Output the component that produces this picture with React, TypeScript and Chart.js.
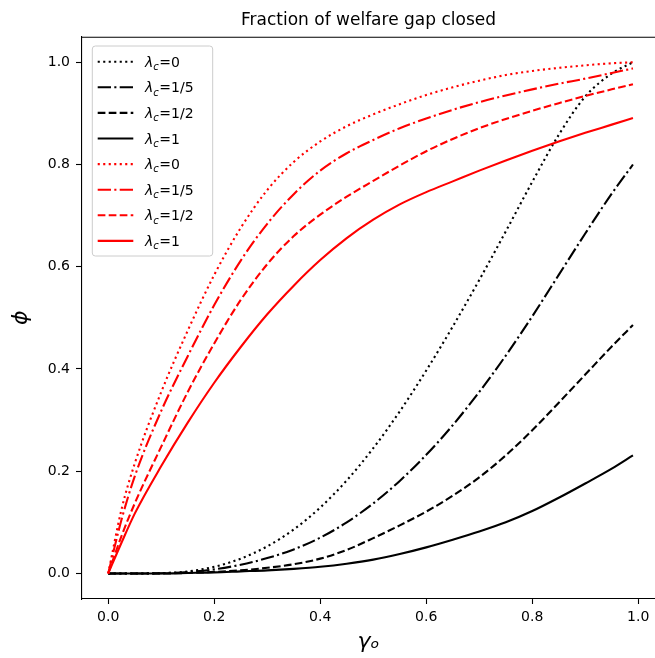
import React, { useEffect, useRef } from "react";
import { Chart, registerables } from "chart.js";

Chart.register(...registerables);

// ---- data ----
const gammaO = [0, 0.025, 0.05, 0.1, 0.15, 0.2, 0.25, 0.3, 0.35, 0.4, 0.45, 0.5, 0.55, 0.6, 0.65, 0.7, 0.75, 0.8, 0.85, 0.9, 0.95, 0.99];

const blackLam0 = [0, 0, 0, 0.0005, 0.004, 0.013, 0.029, 0.053, 0.086, 0.129, 0.182, 0.245, 0.317, 0.397, 0.483, 0.574, 0.669, 0.766, 0.858, 0.933, 0.978, 1.0];
const blackLam15 = [0, 0, 0, 0.0005, 0.003, 0.008, 0.017, 0.03, 0.047, 0.07, 0.1, 0.137, 0.181, 0.232, 0.29, 0.355, 0.426, 0.503, 0.584, 0.665, 0.743, 0.8];
const blackLam12 = [0, 0, 0, 0, 0.001, 0.003, 0.006, 0.011, 0.018, 0.029, 0.046, 0.069, 0.094, 0.121, 0.152, 0.188, 0.231, 0.28, 0.334, 0.389, 0.444, 0.486];
const blackLam1 = [0, 0, 0, 0, 0.001, 0.002, 0.004, 0.006, 0.009, 0.013, 0.019, 0.027, 0.038, 0.051, 0.066, 0.082, 0.1, 0.122, 0.148, 0.176, 0.205, 0.231];

const redLam0 = [0, 0.125, 0.215, 0.355, 0.475, 0.584, 0.676, 0.75, 0.805, 0.845, 0.875, 0.898, 0.918, 0.936, 0.951, 0.964, 0.975, 0.983, 0.989, 0.994, 0.998, 1.0];
const redLam15 = [0, 0.105, 0.19, 0.318, 0.425, 0.525, 0.612, 0.684, 0.742, 0.788, 0.822, 0.848, 0.871, 0.89, 0.907, 0.922, 0.935, 0.947, 0.958, 0.968, 0.979, 0.988];
const redLam12 = [0, 0.073, 0.137, 0.248, 0.355, 0.45, 0.535, 0.605, 0.66, 0.702, 0.737, 0.768, 0.798, 0.826, 0.85, 0.871, 0.889, 0.905, 0.92, 0.934, 0.947, 0.957];
const redLam1 = [0, 0.06, 0.117, 0.21, 0.295, 0.373, 0.443, 0.507, 0.563, 0.613, 0.656, 0.692, 0.722, 0.746, 0.767, 0.788, 0.808, 0.827, 0.845, 0.862, 0.878, 0.891];

const lambdaValues = ["0", "1/5", "1/2", "1"];
const xTicks = [0, 0.2, 0.4, 0.6, 0.8, 1.0];
const yTicks = [0, 0.2, 0.4, 0.6, 0.8, 1.0];
const titleText = "Fraction of welfare gap closed";
const xTitle = "γₒ";
const yTitle = "ϕ";

// ---- styles ----
const LW = 2.1;
const DOTTED = [2.1, 3.4];
const DASHDOT = [13.3, 3.3, 2.1, 3.3];
const DASHED = [7.7, 3.3];
const SOLID: number[] = [];
const FONT = '"DejaVu Sans", "Liberation Sans", sans-serif';

const seriesList = [
  { values: blackLam0, color: "#000000", dash: DOTTED, lam: lambdaValues[0] },
  { values: blackLam15, color: "#000000", dash: DASHDOT, lam: lambdaValues[1] },
  { values: blackLam12, color: "#000000", dash: DASHED, lam: lambdaValues[2] },
  { values: blackLam1, color: "#000000", dash: SOLID, lam: lambdaValues[3] },
  { values: redLam0, color: "#ff0000", dash: DOTTED, lam: lambdaValues[0] },
  { values: redLam15, color: "#ff0000", dash: DASHDOT, lam: lambdaValues[1] },
  { values: redLam12, color: "#ff0000", dash: DASHED, lam: lambdaValues[2] },
  { values: redLam1, color: "#ff0000", dash: SOLID, lam: lambdaValues[3] },
];

const framePlugin = {
  id: "mplFrame",
  afterDraw(chart: any) {
    const { ctx, chartArea } = chart;
    ctx.save();
    ctx.strokeStyle = "#000";
    ctx.lineWidth = 1.1;
    ctx.setLineDash([]);
    ctx.beginPath();
    ctx.moveTo(chartArea.left, chartArea.top + 0.5);
    ctx.lineTo(chartArea.right, chartArea.top + 0.5);
    ctx.stroke();
    ctx.restore();
  },
};

const legendPlugin = {
  id: "mplLegend",
  afterDatasetsDraw(chart: any) {
    const { ctx, chartArea } = chart;
    const x0 = chartArea.left + 10.3;
    const y0 = chartArea.top + 9.3;
    const w = 120.4;
    const h = 210;
    ctx.save();
    ctx.beginPath();
    if ((ctx as any).roundRect) (ctx as any).roundRect(x0, y0, w, h, 3);
    else ctx.rect(x0, y0, w, h);
    ctx.fillStyle = "rgba(255,255,255,0.8)";
    ctx.fill();
    ctx.strokeStyle = "#cccccc";
    ctx.lineWidth = 1;
    ctx.stroke();
    chart.data.datasets.forEach((ds: any, i: number) => {
      const cy = y0 + 15.7 + i * 25.6;
      ctx.setLineDash(ds.borderDash || []);
      ctx.strokeStyle = ds.borderColor;
      ctx.lineWidth = ds.borderWidth;
      ctx.beginPath();
      ctx.moveTo(x0 + 5.4, cy);
      ctx.lineTo(x0 + 41, cy);
      ctx.stroke();
      ctx.setLineDash([]);
      ctx.fillStyle = "#000";
      ctx.textBaseline = "alphabetic";
      ctx.textAlign = "left";
      const base = cy + 5;
      let tx = x0 + 52.7;
      ctx.font = `italic 14px ${FONT}`;
      ctx.fillText("λ", tx, base);
      tx += ctx.measureText("λ").width;
      ctx.font = `italic 10px ${FONT}`;
      ctx.fillText("c", tx, base + 3.3);
      tx += ctx.measureText("c").width + 0.5;
      ctx.font = `14px ${FONT}`;
      ctx.fillText("=" + ds.lamValue, tx, base);
    });
    ctx.restore();
  },
};

export default function App() {
  const canvasRef = useRef<HTMLCanvasElement | null>(null);

  useEffect(() => {
    document.documentElement.style.overflow = "hidden";
    document.body.style.overflow = "hidden";
    const canvas = canvasRef.current;
    if (!canvas) return;

    const datasets = seriesList.map((s, i) => ({
      label: "λc=" + s.lam,
      lamValue: s.lam,
      data: gammaO.map((x, j) => ({ x, y: s.values[j] })),
      borderColor: s.color,
      backgroundColor: s.color,
      borderWidth: LW,
      borderDash: s.dash,
      pointRadius: 0,
      fill: false,
      cubicInterpolationMode: "monotone" as const,
      order: i < 4 ? 1 : 0,
      yAxisID: "y",
    }));

    const chart = new Chart(canvas, {
      type: "line",
      data: { datasets },
      plugins: [framePlugin, legendPlugin],
      options: {
        animation: false,
        responsive: false,
        devicePixelRatio: 1,
        layout: { padding: 0 },
        plugins: {
          legend: { display: false },
          tooltip: { enabled: false },
          title: {
            display: true,
            fullSize: false,
            text: titleText,
            color: "#000",
            font: { family: FONT, size: 17, weight: "normal" },
            padding: { top: 10, bottom: 6.3 },
          },
        },
        scales: {
          x: {
            type: "linear",
            position: "bottom",
            min: -0.0495,
            max: 1.0316,
            afterBuildTicks: (s: any) => {
              s.ticks = xTicks.map((v) => ({ value: v }));
            },
            afterFit: (s: any) => {
              s.height = 59;
            },
            ticks: {
              color: "#000",
              font: { family: FONT, size: 14 },
              padding: 5,
              maxRotation: 0,
              autoSkip: false,
              callback: (v: any) => Number(v).toFixed(1),
            },
            grid: {
              display: true,
              drawOnChartArea: false,
              drawTicks: true,
              tickLength: 5,
              tickColor: "#000",
              tickWidth: 1.1,
            },
            border: { display: true, color: "#000", width: 1.1 },
            title: {
              display: true,
              text: xTitle,
              color: "#000",
              font: { family: FONT, size: 22, style: "italic" },
              padding: { top: 0, bottom: 3 },
            },
          },
          y: {
            type: "linear",
            position: "left",
            min: -0.05,
            max: 1.05,
            afterBuildTicks: (s: any) => {
              s.ticks = yTicks.map((v) => ({ value: v }));
            },
            afterFit: (s: any) => {
              s.width = 82;
            },
            ticks: {
              color: "#000",
              font: { family: FONT, size: 14 },
              padding: 6,
              autoSkip: false,
              callback: (v: any) => Number(v).toFixed(1),
            },
            grid: {
              display: true,
              drawOnChartArea: false,
              drawTicks: true,
              tickLength: 6,
              tickColor: "#000",
              tickWidth: 1.1,
            },
            border: { display: true, color: "#000", width: 1.1 },
            title: {
              display: true,
              text: yTitle,
              color: "#000",
              font: { family: FONT, size: 22, style: "italic" },
              padding: { top: 8, bottom: 0 },
            },
          },
        },
      } as any,
    });

    return () => chart.destroy();
  }, []);

  return (
    <div style={{ position: "absolute", left: 0, top: 0, width: 655, height: 658, background: "#fff" }}>
      <canvas ref={canvasRef} width={655} height={658} style={{ width: 655, height: 658, display: "block" }} />
    </div>
  );
}
